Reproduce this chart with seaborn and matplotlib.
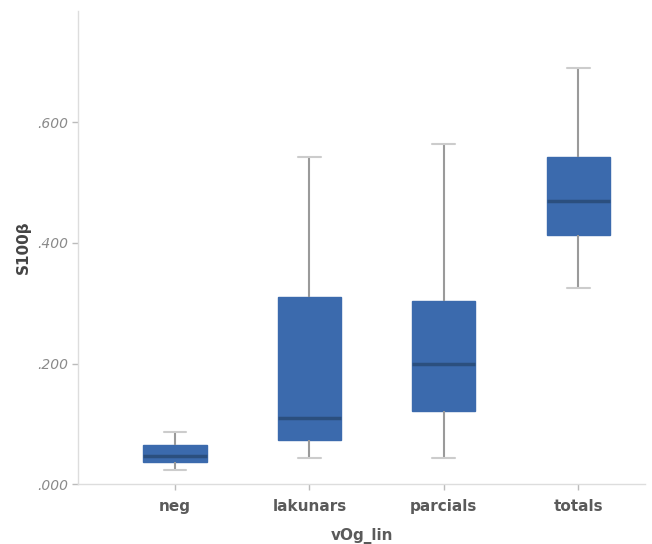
import matplotlib
matplotlib.use("Agg")
import matplotlib.pyplot as plt
import seaborn as sns
import pandas as pd
import numpy as np

categories = ["neg", "lakunars", "parcials", "totals"]
# five-number summaries: min, Q1, median, Q3, max
neg_vals = [23, 36, 46, 65, 86]
lakunars_vals = [43, 73, 109, 310, 542]
parcials_vals = [43, 121, 199, 303, 565]
totals_vals = [326, 414, 470, 542, 691]
ytick_vals = [0, 200, 400, 600]
ytick_labels = [".000", ".200", ".400", ".600"]

rows = []
for cat, vals in zip(categories, [neg_vals, lakunars_vals, parcials_vals, totals_vals]):
    for v in vals:
        rows.append({"vOg_lin": cat, "S100β": v})
df = pd.DataFrame(rows)

sns.set_theme(style="white")
fig = plt.figure(figsize=(6.52, 5.44), dpi=100)
ax = fig.add_axes([0.12, 0.11, 0.87, 0.87])

sns.boxplot(data=df, x="vOg_lin", y="S100β", order=categories, ax=ax,
            color="#3b6aad", saturation=1, width=0.47, whis=(0, 100),
            boxprops=dict(edgecolor="#3b6aad", linewidth=1),
            medianprops=dict(color="#2b4f7e", linewidth=2.5),
            whiskerprops=dict(color="#9a9a9a", linewidth=1.5),
            capprops=dict(color="#cccccc", linewidth=1.5),
            showfliers=False)

# shrink caps
for ln in ax.lines:
    xd = np.asarray(ln.get_xdata(), dtype=float)
    yd = np.asarray(ln.get_ydata(), dtype=float)
    if len(xd) == 2 and yd[0] == yd[1]:
        span = abs(xd[1] - xd[0])
        if span < 0.3:
            c = xd.mean()
            ln.set_xdata([c - 0.085, c + 0.085])

ax.set_xlim(-0.72, 3.5)
ax.set_ylim(0, 785)
ax.set_yticks(ytick_vals)
ax.set_yticklabels(ytick_labels, color="#8a8a8a", fontsize=10, style="italic")
for lab in ax.get_xticklabels():
    lab.set_fontweight("bold")
    lab.set_color("#5a5a5a")
    lab.set_fontsize(11)
ax.tick_params(axis="both", which="both", length=4, color="#bbbbbb", width=1)
ax.tick_params(axis="x", bottom=True, pad=7)
ax.tick_params(axis="y", left=True)
ax.set_xlabel("vOg_lin", fontweight="bold", color="#5a5a5a", fontsize=11, labelpad=10)
ax.set_ylabel("S100β", fontweight="bold", color="#444444", fontsize=11)
for s in ["top", "right"]:
    ax.spines[s].set_visible(False)
for s in ["left", "bottom"]:
    ax.spines[s].set_color("#dddddd")
    ax.spines[s].set_linewidth(1)

fig.savefig("out.png", dpi=100)
